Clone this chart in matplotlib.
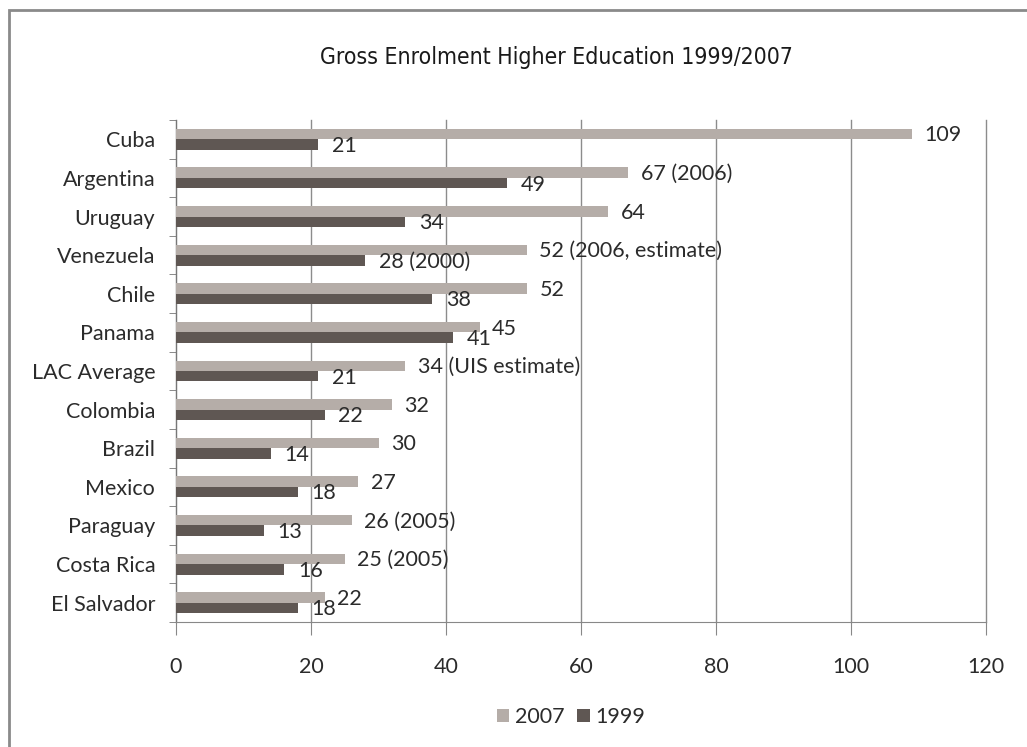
import matplotlib
matplotlib.use("Agg")
import matplotlib.pyplot as plt
from matplotlib.patches import Rectangle
import numpy as np

countries = ["Cuba", "Argentina", "Uruguay", "Venezuela", "Chile", "Panama",
             "LAC Average", "Colombia", "Brazil", "Mexico", "Paraguay",
             "Costa Rica", "El Salvador"]
values_2007 = [109, 67, 64, 52, 52, 45, 34, 32, 30, 27, 26, 25, 22]
values_1999 = [21, 49, 34, 28, 38, 41, 21, 22, 14, 18, 13, 16, 18]
labels_2007 = ["109", "67 (2006)", "64", "52 (2006, estimate)", "52", "45",
               "34 (UIS estimate)", "32", "30", "27", "26 (2005)",
               "25 (2005)", "22"]
labels_1999 = ["21", "49", "34", "28 (2000)", "38", "41", "21", "22", "14",
               "18", "13", "16", "18"]
xticks = [0, 20, 40, 60, 80, 100, 120]

C_2007 = "#b5ada8"
C_1999 = "#5f5753"
TXT = "#2b2b2b"
FONT = ["Lato", "DejaVu Sans"]
FS = 15.5

plt.rcParams["font.family"] = FONT

fig = plt.figure(figsize=(10.27, 7.47), dpi=100)

# outer frame (only top and left edges are in view)
fig.patches.append(Rectangle((0.009, -0.2), 1.2, 1.186, transform=fig.transFigure,
                             fill=False, edgecolor="#8a8a8a", linewidth=2.0))

ax = fig.add_axes([0.1714, 0.1673, 0.7886, 0.6721])

y = np.arange(len(countries))
h = 0.27
ax.barh(y - h / 2, values_2007, height=h, color=C_2007, label="2007", zorder=3)
ax.barh(y + h / 2, values_1999, height=h, color=C_1999, label="1999", zorder=3)

for yi, v, t in zip(y, values_2007, labels_2007):
    ax.annotate(t, (v, yi - h / 2), xytext=(9, -1), textcoords="offset points",
                va="center", ha="left", fontsize=FS, color=TXT, zorder=4)
for yi, v, t in zip(y, values_1999, labels_1999):
    ax.annotate(t, (v, yi + h / 2), xytext=(10, -1), textcoords="offset points",
                va="center", ha="left", fontsize=FS, color=TXT, zorder=4)

ax.set_xlim(0, 120)
ax.set_ylim(len(countries) - 0.5, -0.5)
ax.set_xticks(xticks)
ax.set_yticks(y)
ax.set_yticklabels(countries)
ax.set_yticks(np.arange(len(countries) + 1) - 0.5, minor=True)
ax.tick_params(axis="y", which="major", length=0, pad=15, labelsize=FS, labelcolor=TXT)
ax.tick_params(axis="y", which="minor", length=5, color="#777777", direction="out")
ax.tick_params(axis="x", length=9, color="#888888", pad=16, labelsize=FS, labelcolor=TXT)
ax.grid(axis="x", color="#8c8c8c", linewidth=1.0, zorder=0)
for gl in ax.get_xgridlines():
    gl.set_clip_on(False)

for s in ["top", "right"]:
    ax.spines[s].set_visible(False)
ax.spines["left"].set_color("#777777")
ax.spines["bottom"].set_color("#888888")

fig.text(0.542, 0.923, "Gross Enrolment Higher Education 1999/2007",
         ha="center", va="center", fontsize=16.5, fontstretch="condensed",
         family=["DejaVu Sans"], color="#1a1a1a")

fig.legend(loc="center", bbox_to_anchor=(0.556, 0.04), ncol=2, frameon=False,
           fontsize=FS, handlelength=0.6, handleheight=0.6, handletextpad=0.25,
           columnspacing=0.6, labelcolor=TXT)

fig.savefig("out.png", dpi=100)
